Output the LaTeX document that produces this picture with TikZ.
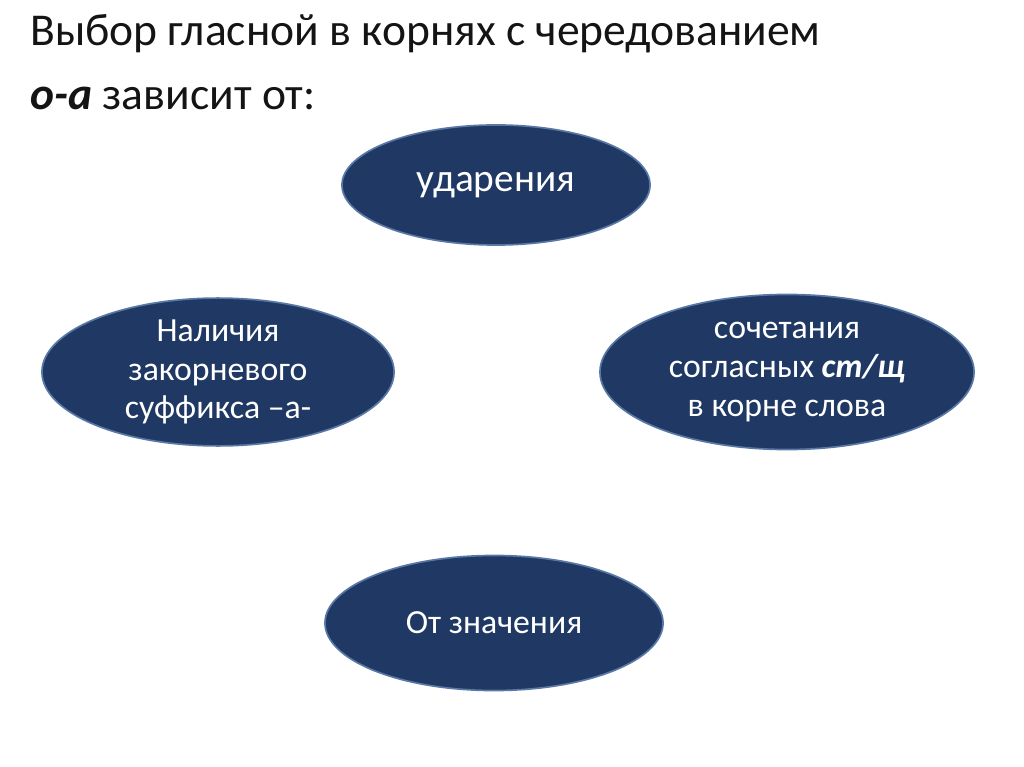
\documentclass[tikz,border=0pt]{standalone}
\usepackage{fontspec}
\setmainfont{Carlito}
\usetikzlibrary{shapes.geometric}
\definecolor{navyfill}{RGB}{31,56,100}
\definecolor{navyedge}{RGB}{90,120,165}
\definecolor{titlegray}{RGB}{20,20,20}

\begin{document}
\begin{tikzpicture}[x=0.025cm, y=-0.025cm,
    oval/.style={ellipse, draw=navyedge, line width=1.2pt, fill=navyfill,
        text=white, font=\fontsize{24}{27.5}\selectfont, align=center, inner sep=0pt},
    heading/.style={anchor=base west, text=titlegray, font=\fontsize{32.4}{36}\selectfont, inner sep=0pt}
]
    \useasboundingbox (0,0) rectangle (1024,767);

    % Title
    \node[heading] (title1) at (30,46) {Выбор гласной в корнях с чередованием};
    \node[heading] (title2) at (30,110) {\textbf{\textit{о-а}} зависит от:};

    % Ovals
    \node[oval, minimum width=7.7cm, minimum height=3.0cm,
        font=\fontsize{28}{30}\selectfont] (stress) at (496,185) {ударения};
    \node[oval, minimum width=8.8cm, minimum height=3.475cm] (suffix) at (218,372)
        {Наличия\\закорневого\\суффикса –а-};
    \node[oval, minimum width=9.35cm, minimum height=3.875cm] (cluster) at (787,372)
        {сочетания\\согласных \textbf{\textit{ст/щ}}\\в корне слова};
    \node[oval, minimum width=8.45cm, minimum height=3.375cm] (meaning) at (494,623) {От значения};
\end{tikzpicture}
\end{document}
